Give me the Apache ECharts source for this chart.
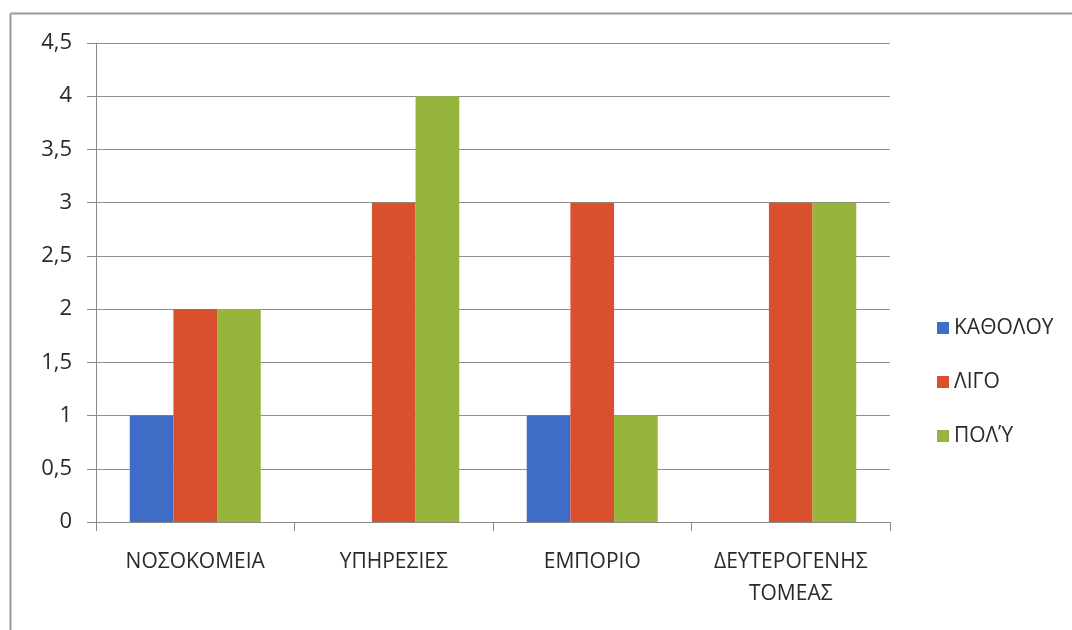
<!DOCTYPE html>
<html>
<head>
<meta charset="utf-8">
<script src="https://cdn.jsdelivr.net/npm/echarts@6/dist/echarts.min.js"></script>
<style>
  html, body { margin: 0; padding: 0; background: #fff; }
  #chart { width: 1072px; height: 630px; }
</style>
</head>
<body>
<div id="chart"></div>
<script>
// Sector categories and the three response levels
const categories = ['ΝΟΣΟΚΟΜΕΙΑ', 'ΥΠΗΡΕΣΙΕΣ', 'ΕΜΠΟΡΙΟ', 'ΔΕΥΤΕΡΟΓΕΝΗΣ\nΤΟΜΕΑΣ'];
const seriesNames = ['ΚΑΘΟΛΟΥ', 'ΛΙΓΟ', 'ΠΟΛΎ'];
const katholou = [1, 0, 1, 0];
const ligo = [2, 3, 3, 3];
const poly = [2, 4, 1, 3];
const seriesColors = ['#3f6cc6', '#d9502f', '#97b53c'];

const textColor = '#2a2a2a';
const fontFamily = '"Open Sans", "Noto Sans", sans-serif';

const chart = echarts.init(document.getElementById('chart'), null, { renderer: 'canvas' });

const values = [katholou, ligo, poly];

chart.setOption({
  backgroundColor: '#ffffff',
  animation: false,
  textStyle: { fontFamily: fontFamily, color: textColor },
  graphic: [
    // outer frame: top and left edges
    { type: 'line', shape: { x1: 10.5, y1: 13.5, x2: 1072, y2: 13.5 }, style: { stroke: '#9a9a9a', lineWidth: 2 } },
    { type: 'line', shape: { x1: 10.5, y1: 13.5, x2: 10.5, y2: 630 }, style: { stroke: '#9a9a9a', lineWidth: 2 } }
  ],
  grid: { left: 96, right: 182, top: 43, bottom: 108, containLabel: false },
  legend: {
    orient: 'vertical',
    left: 932,
    top: 312,
    icon: 'rect',
    itemWidth: 12,
    itemHeight: 12,
    itemGap: 32,
    textStyle: { fontSize: 21, color: textColor, fontFamily: fontFamily, lineHeight: 22 },
    data: seriesNames
  },
  xAxis: {
    type: 'category',
    data: categories,
    axisLine: { lineStyle: { color: '#8a8a8a', width: 1 } },
    axisTick: { show: true, length: 9, lineStyle: { color: '#8a8a8a' } },
    axisLabel: { fontSize: 21, color: textColor, margin: 24, lineHeight: 32, interval: 0 }
  },
  yAxis: {
    type: 'value',
    min: 0,
    max: 4.5,
    interval: 0.5,
    axisLine: { show: true, lineStyle: { color: '#8a8a8a', width: 1 } },
    axisTick: { show: true, length: 9, lineStyle: { color: '#8a8a8a' } },
    splitLine: { lineStyle: { color: '#8f8f8f', width: 1 } },
    axisLabel: {
      fontSize: 22,
      color: textColor,
      margin: 24,
      formatter: v => String(v).replace('.', ',')
    }
  },
  series: seriesNames.map((name, i) => ({
    name: name,
    type: 'bar',
    data: values[i],
    barGap: '0%',
    barCategoryGap: '34%',
    itemStyle: { color: seriesColors[i] }
  }))
});
</script>
</body>
</html>
